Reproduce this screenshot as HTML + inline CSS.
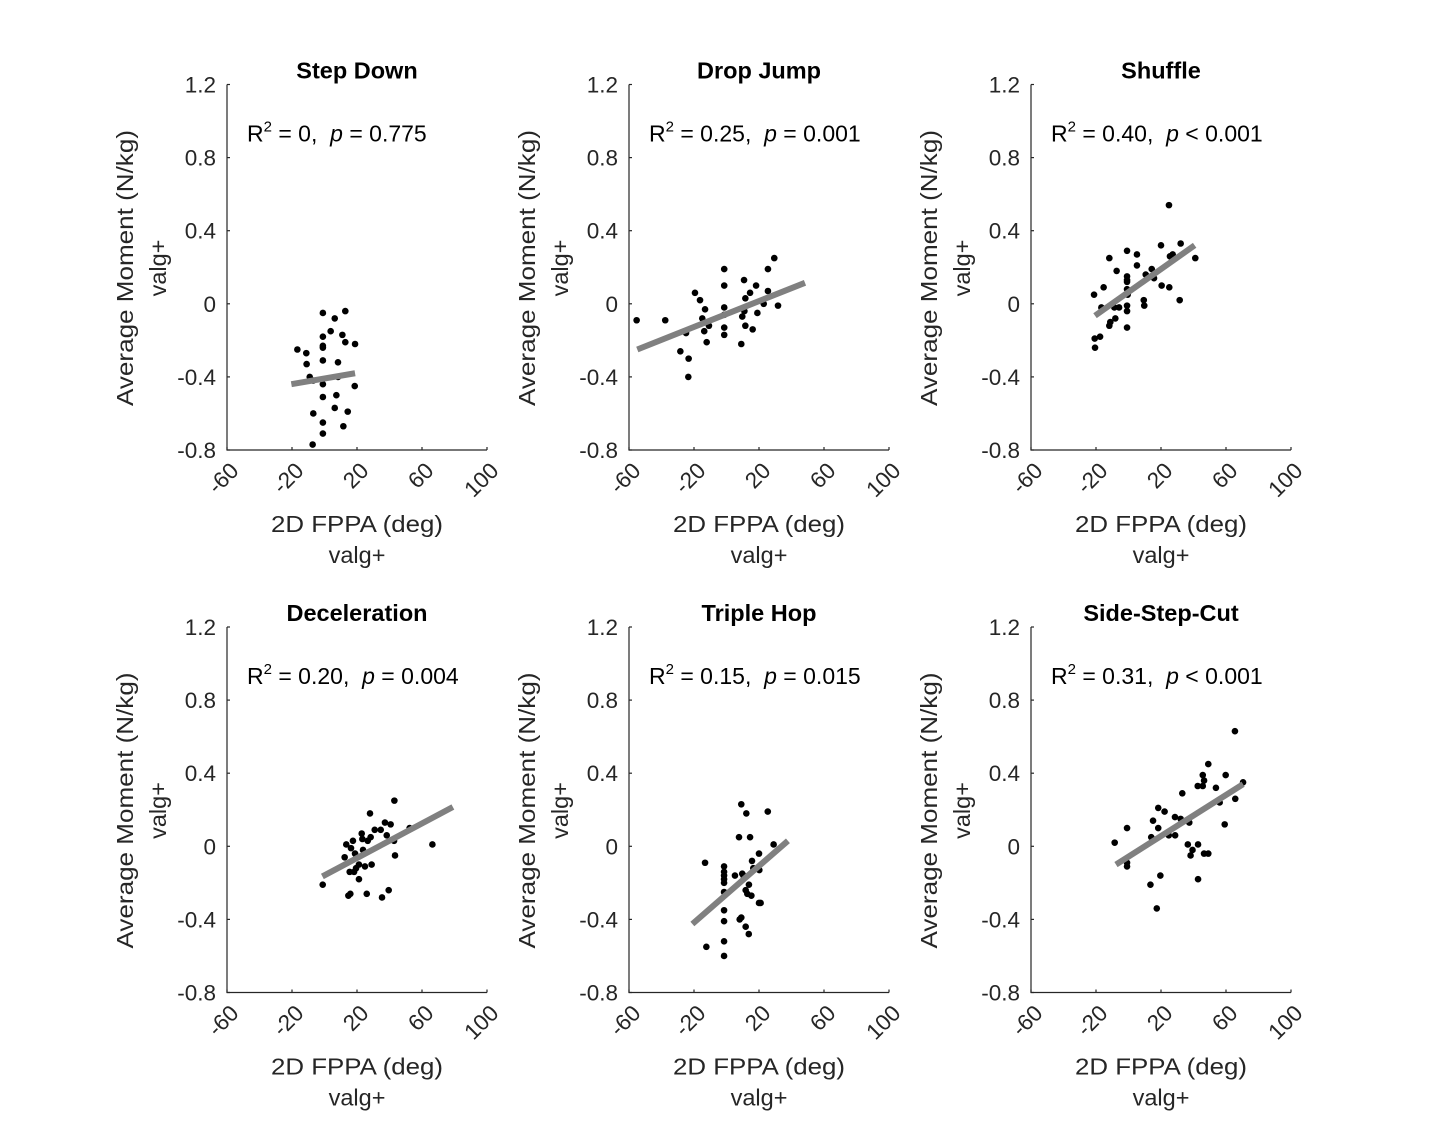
<!DOCTYPE html>
<html><head><meta charset="utf-8">
<style>
html,body{margin:0;padding:0;background:#fff;}
svg{display:block;font-family:"Liberation Sans",Arial,sans-serif;}
</style></head>
<body>
<svg id="fig" width="1430" height="1144" viewBox="0 0 1430 1144" xmlns="http://www.w3.org/2000/svg"></svg>
<script>
// ---- data ----
const titles = ["Step Down","Drop Jump","Shuffle","Deceleration","Triple Hop","Side-Step-Cut"];
const r2Labels = ["0","0.25","0.40","0.20","0.15","0.31"];
const pLabels = ["= 0.775","= 0.001","< 0.001","= 0.004","= 0.015","< 0.001"];
const xTicks = [-60,-20,20,60,100];
const yTicks = [-0.8,-0.4,0,0.4,0.8,1.2];
const xTickLabels = ["-60","-20","20","60","100"];
const yTickLabels = ["-0.8","-0.4","0","0.4","0.8","1.2"];

const x1 = [-1,6.3,12.8,3.8,-1,11,12.8,18.8,-1,-1,-16.7,-11.2,-1,8.3,-11,-9.1,-7,8.3,-1,18.6,7.3,-1,6.3,14.3,-6.9,-1,11.6,-1,-7.3];
const y1 = [-0.05,-0.08,-0.04,-0.15,-0.18,-0.17,-0.21,-0.22,-0.23,-0.24,-0.25,-0.27,-0.31,-0.32,-0.33,-0.40,-0.42,-0.40,-0.44,-0.45,-0.50,-0.51,-0.57,-0.59,-0.60,-0.65,-0.67,-0.71,-0.77];
const x2 = [29.4,-1.4,25.5,10.8,-1.4,18.2,-19.4,14.5,25.5,-16.3,11.6,22.9,31.7,-1.4,-13.2,11,-1.4,19,9.7,-55.3,-37.7,-14.9,-10.8,-1.4,11.6,-13.7,-24.9,16.1,-1.4,-12.2,9.1,-28.4,-23.3,-23.5];
const y2 = [0.25,0.19,0.19,0.13,0.10,0.10,0.06,0.06,0.07,0.02,0.03,0,-0.01,-0.02,-0.03,-0.04,-0.06,-0.05,-0.07,-0.09,-0.09,-0.08,-0.12,-0.13,-0.12,-0.15,-0.16,-0.14,-0.17,-0.21,-0.22,-0.26,-0.30,-0.40];
const x3 = [24.9,20,32.1,41.1,-11.8,-0.9,5.2,25.5,27.2,5.2,-7.3,14.3,10.6,-0.9,-0.9,-0.9,15.7,-15.3,20.4,25.1,-0.9,-0.5,-21.2,-16.7,-8.7,-5.8,-0.9,-0.9,9.4,9.7,31.5,-8.1,-11.2,-11.8,-0.9,-17.5,-20.8,-20.6];
const y3 = [0.54,0.32,0.33,0.25,0.25,0.29,0.27,0.26,0.27,0.21,0.18,0.19,0.16,0.15,0.13,0.12,0.14,0.09,0.10,0.09,0.08,0.05,0.05,-0.02,-0.02,-0.02,-0.01,-0.04,0.02,-0.01,0.02,-0.08,-0.10,-0.12,-0.13,-0.18,-0.19,-0.24];
const x4 = [43,28,37.2,40.7,30.9,34.6,38.3,22.9,23.3,28.4,17.5,26.6,52.4,13.4,16.3,23.7,42.8,66.4,18.8,12.4,43.4,21.2,29,24.9,19.4,18.2,15.5,21.2,-1.1,15.9,14.7,26,39.5,35.4];
const y4 = [0.25,0.18,0.13,0.12,0.09,0.09,0.06,0.07,0.04,0.05,0.03,0.03,0.10,0.01,-0.01,-0.02,0.03,0.01,-0.04,-0.06,-0.05,-0.10,-0.10,-0.11,-0.12,-0.14,-0.14,-0.18,-0.21,-0.26,-0.27,-0.26,-0.24,-0.28];
const x5 = [9.1,12.2,25.4,7.7,14.5,29,-13.2,-1.5,-1.5,-1.5,-1.5,-1.5,-1.5,20,15.7,16.5,20.2,5.2,9.7,10.4,13.8,11.8,12.8,15.3,20,21,-1.5,-1.5,8.1,9.1,11.8,13.7,-1.5,-12.4,-1.5];
const y5 = [0.23,0.18,0.19,0.05,0.05,0.01,-0.09,-0.11,-0.14,-0.16,-0.18,-0.20,-0.25,-0.04,-0.08,-0.12,-0.13,-0.16,-0.15,-0.16,-0.21,-0.24,-0.26,-0.27,-0.31,-0.31,-0.35,-0.41,-0.40,-0.39,-0.44,-0.48,-0.52,-0.55,-0.60];
const x6 = [65.5,49.1,59.8,45.7,46.5,70.5,42.6,45.7,53.8,33.1,65.7,56.1,18.3,22.2,28.6,32.1,15.1,37.4,-0.9,18.3,59.2,14,24.8,28.7,-8.5,36.5,39.4,38.2,42.8,46.5,49.1,-0.9,-0.9,19.6,13.5,42.8,17.4];
const y6 = [0.63,0.45,0.39,0.39,0.36,0.35,0.33,0.33,0.32,0.29,0.26,0.24,0.21,0.19,0.16,0.15,0.14,0.13,0.10,0.10,0.12,0.05,0.06,0.06,0.02,0.01,-0.02,-0.05,0.01,-0.04,-0.04,-0.09,-0.11,-0.16,-0.21,-0.18,-0.34];
const xs = [x1,x2,x3,x4,x5,x6];
const ys = [y1,y2,y3,y4,y5,y6];
// regression lines: [xStart, yStart, xEnd, yEnd]
const fit1 = [-20.4,-0.44,18.8,-0.38];
const fit2 = [-54.9,-0.25,48.3,0.115];
const fit3 = [-20.6,-0.065,40.7,0.32];
const fit4 = [-1.3,-0.165,79,0.215];
const fit5 = [-21,-0.425,37.8,0.03];
const fit6 = [-7.7,-0.10,70.5,0.34];
const fits = [fit1,fit2,fit3,fit4,fit5,fit6];

// ---- drawing ----
const NS = "http://www.w3.org/2000/svg";
const svg = document.getElementById('fig');
function mk(tag, attrs, parent, text){
  const e = document.createElementNS(NS, tag);
  for (const k in attrs) e.setAttribute(k, attrs[k]);
  if (text !== undefined) e.textContent = text;
  parent.appendChild(e);
  return e;
}
const lefts = [227,629,1031];
const tops = [84.5,627];
const W = 260, H = 365.5;
const XMIN=-60, XMAX=100, YMIN=-0.8, YMAX=1.2;
const FS = 22.5;

for (let i=0;i<6;i++){
  const L = lefts[i%3], T = tops[Math.floor(i/3)];
  const sx = v => L + (v-XMIN)/(XMAX-XMIN)*W;
  const sy = v => T + H - (v-YMIN)/(YMAX-YMIN)*H;
  const g = mk('g', {}, svg);
  
  

  const ax = mk('path', {d:`M${L},${T} V${T+H} H${L+W}`, fill:'none', stroke:'#262626', 'stroke-width':1.2}, g);
  
  

  yTicks.forEach((v,k)=>{
    const y = sy(v);
    const t = mk('line', {x1:L, x2:L+3, y1:y, y2:y, stroke:'#262626', 'stroke-width':1.2}, g);
    
    
    const lb = mk('text', {x:L-11, y:y+8, 'text-anchor':'end', 'font-size':FS, fill:'#262626'}, g, yTickLabels[k]);
    
    
  });
  xTicks.forEach((v,k)=>{
    const x = sx(v);
    const t = mk('line', {x1:x, x2:x, y1:T+H, y2:T+H-3, stroke:'#262626', 'stroke-width':1.2}, g);
    
    
    const lb = mk('text', {x:0, y:0, 'text-anchor':'end', 'font-size':FS, fill:'#262626',
      transform:`translate(${x+13},${T+H+22}) rotate(-45)`}, g, xTickLabels[k]);
    
    
  });

  const tt = mk('text', {x:L+W/2, y:T-6, 'text-anchor':'middle', 'font-size':23.5, 'font-weight':'bold', fill:'#000'}, g, titles[i]);
  
  

  const an = mk('text', {x:L+20, y:T+57, 'font-size':23, fill:'#000'}, g);
  
  
  mk('tspan', {}, an, 'R');
  mk('tspan', {'font-size':15, dy:-10}, an, '2');
  mk('tspan', {dy:10}, an, ' = ' + r2Labels[i] + ',\u00a0\u00a0');
  mk('tspan', {'font-style':'italic'}, an, 'p');
  mk('tspan', {}, an, ' ' + pLabels[i]);

  const xl = mk('text', {x:L+W/2, y:T+H+82, 'text-anchor':'middle', 'font-size':23.5, fill:'#262626', textLength:172, lengthAdjust:'spacingAndGlyphs'}, g, '2D FPPA (deg)');
  
  
  const xl2 = mk('text', {x:L+W/2, y:T+H+113, 'text-anchor':'middle', 'font-size':23.5, fill:'#262626'}, g, 'valg+');
  
  
  const cy = T + 183.5;
  const yl = mk('text', {x:0, y:0, 'text-anchor':'middle', 'font-size':23.5, fill:'#262626', textLength:276, lengthAdjust:'spacingAndGlyphs',
    transform:`translate(${L-94},${cy}) rotate(-90)`}, g, 'Average Moment (N/kg)');
  
  
  const yl2 = mk('text', {x:0, y:0, 'text-anchor':'middle', 'font-size':23.5, fill:'#262626',
    transform:`translate(${L-61},${cy}) rotate(-90)`}, g, 'valg+');
  
  

  xs[i].forEach((xv,k)=>{
    const c = mk('circle', {cx:sx(xv), cy:sy(ys[i][k]), r:3.3, fill:'#000'}, g);
    
    
  });
  const f = fits[i];
  const ln = mk('line', {x1:sx(f[0]), y1:sy(f[1]), x2:sx(f[2]), y2:sy(f[3]), stroke:'#808080', 'stroke-width':6}, g);
  
  
}
</script>
</body></html>
